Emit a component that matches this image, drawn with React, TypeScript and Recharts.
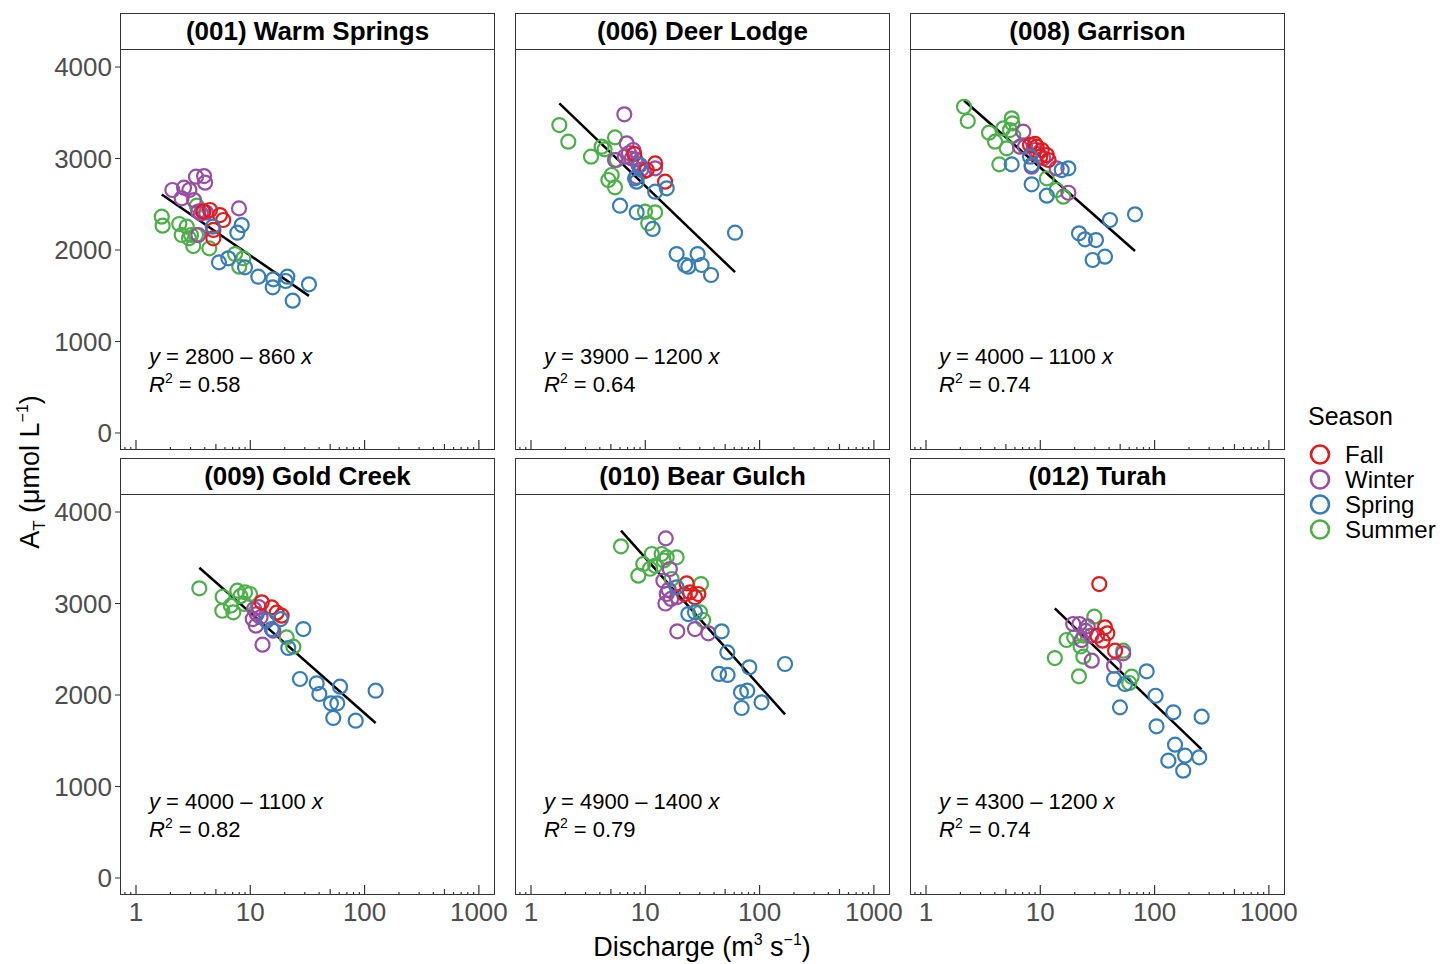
import { ScatterChart, Scatter, XAxis, YAxis, ReferenceLine } from "recharts";

// [season, discharge (m3/s), alkalinity (umol/L)]
type Pt = [string, number, number];

const warmSprings: Pt[] = [
  ["Summer", 1.68, 2364], ["Summer", 1.71, 2266], ["Summer", 2.39, 2284], ["Summer", 2.51, 2164],
  ["Summer", 2.78, 2255], ["Summer", 3.03, 2164], ["Summer", 2.91, 2128], ["Summer", 3.17, 2044],
  ["Summer", 3.35, 2164], ["Summer", 3.4, 2484], ["Summer", 4.38, 2018], ["Summer", 7.35, 1956],
  ["Summer", 8.69, 1909], ["Summer", 8.01, 1818],
  ["Winter", 2.08, 2656], ["Winter", 2.63, 2681], ["Winter", 3.35, 2801], ["Winter", 3.94, 2808],
  ["Winter", 4.02, 2736], ["Winter", 2.93, 2656], ["Winter", 2.51, 2565], ["Winter", 3.22, 2546],
  ["Winter", 7.96, 2455], ["Winter", 3.5, 2420], ["Winter", 3.8, 2430], ["Winter", 4.1, 2410],
  ["Winter", 3.7, 2400], ["Winter", 3.51, 2164],
  ["Fall", 5.43, 2382], ["Fall", 5.8, 2328], ["Fall", 4.75, 2219], ["Fall", 4.75, 2128],
  ["Fall", 4.44, 2437], ["Fall", 3.9, 2420],
  ["Spring", 4.69, 2255], ["Spring", 8.41, 2273], ["Spring", 7.7, 2189], ["Spring", 5.32, 1865],
  ["Spring", 6.42, 1909], ["Spring", 8.99, 1811], ["Spring", 11.75, 1708], ["Spring", 15.9, 1680],
  ["Spring", 15.7, 1592], ["Spring", 21.1, 1708], ["Spring", 20.4, 1661], ["Spring", 23.5, 1446],
  ["Spring", 32.6, 1625],
];

const deerLodge: Pt[] = [
  ["Summer", 1.77, 3366], ["Summer", 2.12, 3184], ["Summer", 3.35, 3020], ["Summer", 4.15, 3129],
  ["Summer", 4.4, 3100], ["Summer", 5.43, 3231], ["Summer", 5.62, 2984], ["Summer", 5.08, 2820],
  ["Summer", 4.75, 2765], ["Summer", 5.43, 2685], ["Summer", 9.94, 2419], ["Summer", 12.2, 2412],
  ["Summer", 10.6, 2292],
  ["Winter", 6.55, 3483], ["Winter", 6.87, 3166], ["Winter", 7.85, 3093], ["Winter", 5.43, 2984],
  ["Winter", 6.6, 3020], ["Winter", 7.2, 3060], ["Winter", 8.2, 2990], ["Winter", 8.7, 2930],
  ["Winter", 9.2, 2880], ["Winter", 8.4, 2800], ["Winter", 9.8, 2860], ["Winter", 12.2, 2893],
  ["Winter", 7.6, 3000],
  ["Fall", 12.2, 2947], ["Fall", 14.9, 2747], ["Fall", 10.3, 2874], ["Fall", 8.0, 3050],
  ["Spring", 9.0, 2929], ["Spring", 8.13, 2783], ["Spring", 8.4, 2747], ["Spring", 12.2, 2637],
  ["Spring", 15.4, 2674], ["Spring", 6.01, 2484], ["Spring", 8.41, 2412], ["Spring", 11.6, 2230],
  ["Spring", 61, 2189], ["Spring", 18.8, 1956], ["Spring", 28.7, 1956], ["Spring", 22.3, 1836],
  ["Spring", 23.8, 1818], ["Spring", 31.1, 1836], ["Spring", 37.6, 1727],
];

const garrison: Pt[] = [
  ["Summer", 2.15, 3566], ["Summer", 2.32, 3410], ["Summer", 3.56, 3282], ["Summer", 4.02, 3184],
  ["Summer", 4.75, 3330], ["Summer", 5.62, 3439], ["Summer", 5.7, 3384], ["Summer", 5.43, 3311],
  ["Summer", 5.08, 3111], ["Summer", 4.38, 2936], ["Summer", 11.4, 2783], ["Summer", 13.9, 2656],
  ["Summer", 15.9, 2583], ["Summer", 5.8, 3250],
  ["Winter", 7.1, 3293], ["Winter", 7.35, 3129], ["Winter", 9.0, 3093], ["Winter", 10.6, 3002],
  ["Winter", 8.4, 2911], ["Winter", 13.9, 2893], ["Winter", 17.6, 2626], ["Winter", 6.64, 3129],
  ["Winter", 9.5, 3050],
  ["Fall", 8.13, 3148], ["Fall", 9.3, 3129], ["Fall", 10.3, 3093], ["Fall", 11.4, 3038],
  ["Fall", 11.8, 2984], ["Fall", 10.0, 3020], ["Fall", 9.0, 3160],
  ["Spring", 5.62, 2936], ["Spring", 8.13, 3020], ["Spring", 8.4, 2929], ["Spring", 15.4, 2874],
  ["Spring", 17.6, 2893], ["Spring", 8.4, 2718], ["Spring", 11.4, 2594], ["Spring", 40.7, 2328],
  ["Spring", 67.4, 2390], ["Spring", 21.8, 2182], ["Spring", 24.6, 2117], ["Spring", 30.7, 2109],
  ["Spring", 28.7, 1891], ["Spring", 36.8, 1927],
];

const goldCreek: Pt[] = [
  ["Summer", 3.58, 3166], ["Summer", 5.73, 3074], ["Summer", 5.69, 2921], ["Summer", 7.1, 2904],
  ["Summer", 7.7, 3140], ["Summer", 9.0, 3122], ["Summer", 9.94, 3104], ["Summer", 8.87, 2995],
  ["Summer", 6.76, 2977], ["Summer", 20.8, 2630], ["Summer", 23.8, 2528], ["Summer", 8.2, 3080],
  ["Winter", 11.4, 2885], ["Winter", 10.8, 2940], ["Winter", 11.9, 2960], ["Winter", 11.2, 2758],
  ["Winter", 15.9, 2703], ["Winter", 12.8, 2550], ["Winter", 10.5, 2830], ["Winter", 12.3, 2850],
  ["Fall", 12.6, 3013], ["Fall", 15.4, 2958], ["Fall", 18.8, 2867], ["Fall", 17.0, 2900],
  ["Spring", 13.9, 2812], ["Spring", 15.4, 2721], ["Spring", 18.5, 2830], ["Spring", 29.1, 2721],
  ["Spring", 21.5, 2514], ["Spring", 27.2, 2175], ["Spring", 38.1, 2128], ["Spring", 40.2, 2011],
  ["Spring", 61, 2091], ["Spring", 50.8, 1909], ["Spring", 57.7, 1909], ["Spring", 53.2, 1749],
  ["Spring", 83.6, 1719], ["Spring", 125, 2047],
];

const bearGulch: Pt[] = [
  ["Summer", 6.13, 3625], ["Summer", 8.69, 3304], ["Summer", 9.6, 3432], ["Summer", 11.4, 3541],
  ["Summer", 12.2, 3413], ["Summer", 13.9, 3541], ["Summer", 15.4, 3505], ["Summer", 18.8, 3505],
  ["Summer", 11.0, 3380], ["Summer", 17, 3268], ["Summer", 30.7, 3213], ["Summer", 30.1, 2904],
  ["Summer", 32.1, 2820], ["Summer", 14.5, 3470],
  ["Winter", 15.1, 3712], ["Winter", 16.4, 3377], ["Winter", 14.4, 3249], ["Winter", 15.4, 3104],
  ["Winter", 15.0, 3000], ["Winter", 16.8, 3050], ["Winter", 19.0, 3070], ["Winter", 19.05, 2696],
  ["Winter", 27.2, 2721], ["Winter", 35.6, 2674], ["Winter", 16.0, 3150],
  ["Fall", 23, 3220], ["Fall", 24.6, 3122], ["Fall", 29.1, 3104], ["Fall", 27.2, 3068], ["Fall", 22, 3100],
  ["Spring", 18.8, 3177], ["Spring", 23.8, 2885], ["Spring", 27.2, 2904], ["Spring", 46.6, 2696],
  ["Spring", 52.2, 2466], ["Spring", 81.3, 2303], ["Spring", 167, 2339], ["Spring", 44.2, 2230],
  ["Spring", 52.5, 2219], ["Spring", 68.7, 2029], ["Spring", 78, 2047], ["Spring", 104, 1920],
  ["Spring", 69.7, 1858],
];

const turah: Pt[] = [
  ["Summer", 29.7, 2856], ["Summer", 17, 2601], ["Summer", 13.4, 2404], ["Summer", 21.8, 2204],
  ["Summer", 19.8, 2630], ["Summer", 24.0, 2650], ["Summer", 22.5, 2530], ["Summer", 23.8, 2419],
  ["Summer", 63, 2200], ["Summer", 60, 2131], ["Summer", 53.2, 2484],
  ["Winter", 19.4, 2776], ["Winter", 22, 2776], ["Winter", 25, 2700], ["Winter", 28, 2650],
  ["Winter", 23, 2600], ["Winter", 28.2, 2375], ["Winter", 53.2, 2455], ["Winter", 44.2, 2320],
  ["Winter", 26, 2750],
  ["Fall", 32.8, 3213], ["Fall", 36.8, 2740], ["Fall", 38.6, 2674], ["Fall", 35.1, 2594],
  ["Fall", 45.1, 2484], ["Fall", 31.5, 2650],
  ["Spring", 44.2, 2175], ["Spring", 55.1, 2120], ["Spring", 49.8, 1865], ["Spring", 85.3, 2259],
  ["Spring", 102, 1992], ["Spring", 104, 1658], ["Spring", 146, 1811], ["Spring", 258, 1763],
  ["Spring", 151, 1457], ["Spring", 132, 1282], ["Spring", 185, 1337], ["Spring", 246, 1319],
  ["Spring", 178, 1173],
];

const siteNames = ["(001) Warm Springs", "(006) Deer Lodge", "(008) Garrison", "(009) Gold Creek", "(010) Bear Gulch", "(012) Turah"];
const sitePoints = [warmSprings, deerLodge, garrison, goldCreek, bearGulch, turah];
const fitIntercepts = [2800, 3900, 4000, 4000, 4900, 4300];
const fitSlopes = [860, 1200, 1100, 1100, 1400, 1200];
const fitR2 = ["0.58", "0.64", "0.74", "0.82", "0.79", "0.74"];

const seasons = ["Fall", "Winter", "Spring", "Summer"];
const seasonColors = ["#E41A1C", "#984EA3", "#377EB8", "#4DAF4A"];
const drawOrder = ["Summer", "Winter", "Fall", "Spring"];

const logTicks = [0.8, 0.9, 1, 2, 3, 4, 5, 6, 7, 8, 9, 10, 20, 30, 40, 50, 60, 70, 80, 90,
  100, 200, 300, 400, 500, 600, 700, 800, 900, 1000];
const decadeTicks = [1, 10, 100, 1000];
const midTicks = [5, 50, 500];
const yTicks = [0, 1000, 2000, 3000, 4000];

const X_DOMAIN = [0.7244, 1384];
const Y_DOMAIN = [-186, 4197];

const COL_LEFT = [120, 515, 910];
const STRIP_TOP = [13, 458];
const STRIP_H = 36;
const PLOT_W = 375;
const PLOT_H = 401;
const AXIS_W = 80;
const AXIS_H = 40;
const RIGHT_PAD = 40;
const FONT = '"Liberation Sans", Arial, sans-serif';

const renderLogTick = (p: any, showLabel: boolean) => {
  const v = p.payload.value;
  const isDecade = decadeTicks.includes(v);
  const len = isDecade ? 10 : midTicks.includes(v) ? 6 : 3;
  return (
    <g>
      <line x1={p.x} x2={p.x} y1={p.y} y2={p.y - len} stroke="#333" strokeWidth={1.2} />
      {showLabel && isDecade && (
        <text x={p.x} y={p.y + 26} textAnchor="middle" fill="#4d4d4d" fontSize={26} fontFamily={FONT}>
          {v}
        </text>
      )}
    </g>
  );
};

const Panel = ({ i }: { i: number }) => {
  const col = i % 3;
  const row = Math.floor(i / 3);
  const left = COL_LEFT[col];
  const stripTop = STRIP_TOP[row];
  const plotTop = stripTop + STRIP_H;
  const pts = sitePoints[i];
  const qs = pts.map((p) => p[1]);
  const qMin = Math.min(...qs);
  const qMax = Math.max(...qs);
  const fit = (q: number) => fitIntercepts[i] - fitSlopes[i] * Math.log10(q);

  return (
    <>
      <div style={{ position: "absolute", left: left - AXIS_W, top: plotTop }}>
        <ScatterChart
          width={PLOT_W + AXIS_W + RIGHT_PAD}
          height={PLOT_H + AXIS_H}
          margin={{ top: 0, right: RIGHT_PAD, bottom: 0, left: 0 }}
        >
          <XAxis
            type="number"
            dataKey="q"
            scale="log"
            domain={X_DOMAIN}
            allowDataOverflow
            ticks={logTicks}
            interval={0}
            axisLine={false}
            tickLine={false}
            tickSize={0}
            tickMargin={0}
            height={AXIS_H}
            tick={(p: any) => renderLogTick(p, row === 1)}
          />
          <YAxis
            type="number"
            dataKey="a"
            domain={Y_DOMAIN}
            allowDataOverflow
            ticks={yTicks}
            interval={0}
            width={AXIS_W}
            axisLine={false}
            tickSize={5}
            tickMargin={3}
            tickLine={col === 0 ? { stroke: "#333" } : false}
            tick={col === 0 ? { fill: "#4d4d4d", fontSize: 26, fontFamily: FONT } : false}
          />
          {drawOrder.map((s) => {
            const color = seasonColors[seasons.indexOf(s)];
            return (
              <Scatter
                key={s}
                name={s}
                data={pts.filter((p) => p[0] === s).map((p) => ({ q: p[1], a: p[2] }))}
                isAnimationActive={false}
                shape={(sp: any) => (
                  <circle cx={sp.cx} cy={sp.cy} r={7} fill="none" stroke={color} strokeWidth={2.2} />
                )}
              />
            );
          })}
          <ReferenceLine
            segment={[{ x: qMin, y: fit(qMin) }, { x: qMax, y: fit(qMax) }]}
            stroke="#000"
            strokeWidth={2.5}
          />
        </ScatterChart>
      </div>
      <div
        style={{
          position: "absolute", left, top: plotTop, width: PLOT_W, height: PLOT_H,
          border: "1px solid #333", boxSizing: "border-box", pointerEvents: "none",
        }}
      />
      <div
        style={{
          position: "absolute", left, top: stripTop, width: PLOT_W, height: STRIP_H + 1,
          border: "1px solid #333", boxSizing: "border-box", textAlign: "center",
          fontWeight: "bold", fontSize: 26, lineHeight: `${STRIP_H - 1}px`, color: "#000",
          whiteSpace: "nowrap",
        }}
      >
        {siteNames[i]}
      </div>
      <div
        style={{
          position: "absolute", left: left + 29, top: plotTop + 294, fontSize: 22,
          lineHeight: "28px", color: "#000", whiteSpace: "nowrap",
        }}
      >
        <div>
          <i>y</i> = {fitIntercepts[i]} – {fitSlopes[i]} <i>x</i>
        </div>
        <div>
          <i>R</i>
          <span style={{ fontSize: 14, position: "relative", top: -9 }}>2</span> = {fitR2[i]}
        </div>
      </div>
    </>
  );
};

export default function App() {
  return (
    <div style={{ position: "absolute", left: 0, top: 0, width: 1450, height: 964, background: "#fff", fontFamily: FONT }}>
      {siteNames.map((_, i) => (
        <Panel key={i} i={i} />
      ))}
      <div style={{ position: "absolute", left: 0, width: 1404, top: 932, textAlign: "center", fontSize: 27, color: "#000" }}>
        Discharge (m<span style={{ fontSize: 16, position: "relative", top: -11 }}>3</span> s
        <span style={{ fontSize: 16, position: "relative", top: -11 }}>−1</span>)
      </div>
      <div
        style={{
          position: "absolute", left: 30, top: 472, transform: "translate(-50%, -50%) rotate(-90deg)",
          fontSize: 27, color: "#000", whiteSpace: "nowrap",
        }}
      >
        A<span style={{ fontSize: 17, position: "relative", top: 6 }}>T</span> (μmol L
        <span style={{ fontSize: 16, position: "relative", top: -11 }}>−1</span>)
      </div>
      <div style={{ position: "absolute", left: 1308, top: 402, fontSize: 25, color: "#000" }}>Season</div>
      {seasons.map((s, k) => (
        <div key={s} style={{ position: "absolute", left: 1308, top: 442 + k * 25, height: 25, display: "flex", alignItems: "center" }}>
          <svg width={26} height={25}>
            <circle cx={12} cy={12.5} r={9} fill="none" stroke={seasonColors[k]} strokeWidth={2.6} />
          </svg>
          <span style={{ marginLeft: 11, fontSize: 24, lineHeight: "25px", color: "#000" }}>{s}</span>
        </div>
      ))}
    </div>
  );
}
